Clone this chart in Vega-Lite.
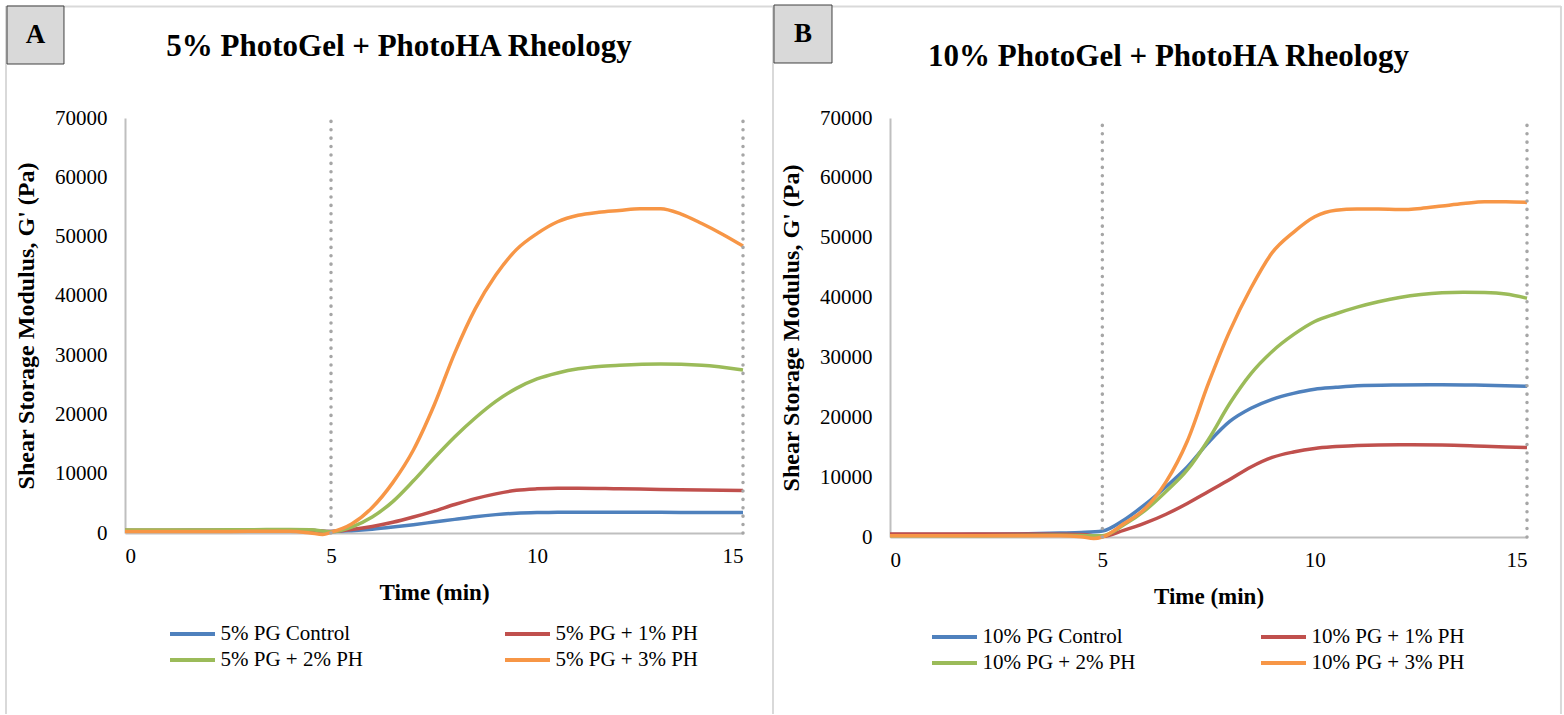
{
  "$schema": "https://vega.github.io/schema/vega-lite/v6.json",
  "background": "white",
  "padding": {"left": 5, "top": 4, "right": 0, "bottom": 0},
  "autosize": {"type": "pad"},
  "bounds": "flush",
  "spacing": 147,
  "config": {
    "font": "Liberation Serif",
    "view": {"stroke": null},
    "axis": {
      "labelFont": "Liberation Serif", "labelFontSize": 21, "labelColor": "#000000",
      "titleFont": "Liberation Serif", "titleFontSize": 23, "titleFontWeight": "bold", "titleColor": "#000000",
      "ticks": false, "grid": false, "domainColor": "#bfbfbf", "domainWidth": 2
    },
    "axisY": {"labelPadding": 18, "titlePadding": 16, "titleFontSize": 24},
    "axisX": {"labelPadding": 12, "titlePadding": 15},
    "legend": {
      "orient": "none", "direction": "horizontal", "columns": 2, "padding": 0,
      "labelFont": "Liberation Serif", "labelFontSize": 21, "labelColor": "#000000", "labelLimit": 400,
      "symbolType": "M-2.5,0H2.5", "symbolSize": 324, "symbolStrokeWidth": 4, "labelOffset": 17,
      "rowPadding": 5, "title": null
    },
    "title": {"font": "Liberation Serif", "fontSize": 31, "fontWeight": "bold", "color": "#000000", "anchor": "middle"}
  },
  "datasets": {
    "a": [
      {"t": 0, "v": 400, "s": "5% PG Control"}, {"t": 1, "v": 400, "s": "5% PG Control"}, {"t": 2, "v": 420, "s": "5% PG Control"}, {"t": 3, "v": 450, "s": "5% PG Control"}, {"t": 4, "v": 480, "s": "5% PG Control"}, {"t": 4.5, "v": 450, "s": "5% PG Control"}, {"t": 5, "v": 250, "s": "5% PG Control"}, {"t": 5.5, "v": 400, "s": "5% PG Control"}, {"t": 6, "v": 650, "s": "5% PG Control"}, {"t": 6.5, "v": 1000, "s": "5% PG Control"}, {"t": 7, "v": 1400, "s": "5% PG Control"}, {"t": 7.5, "v": 1850, "s": "5% PG Control"}, {"t": 8, "v": 2300, "s": "5% PG Control"}, {"t": 8.5, "v": 2750, "s": "5% PG Control"}, {"t": 9, "v": 3100, "s": "5% PG Control"}, {"t": 9.5, "v": 3350, "s": "5% PG Control"}, {"t": 10, "v": 3450, "s": "5% PG Control"}, {"t": 10.5, "v": 3480, "s": "5% PG Control"}, {"t": 11, "v": 3500, "s": "5% PG Control"}, {"t": 12, "v": 3500, "s": "5% PG Control"}, {"t": 13, "v": 3480, "s": "5% PG Control"}, {"t": 14, "v": 3470, "s": "5% PG Control"}, {"t": 15, "v": 3450, "s": "5% PG Control"},
      {"t": 0, "v": 450, "s": "5% PG + 1% PH"}, {"t": 1, "v": 450, "s": "5% PG + 1% PH"}, {"t": 2, "v": 450, "s": "5% PG + 1% PH"}, {"t": 3, "v": 480, "s": "5% PG + 1% PH"}, {"t": 4, "v": 500, "s": "5% PG + 1% PH"}, {"t": 4.5, "v": 450, "s": "5% PG + 1% PH"}, {"t": 5, "v": 250, "s": "5% PG + 1% PH"}, {"t": 5.5, "v": 600, "s": "5% PG + 1% PH"}, {"t": 6, "v": 1100, "s": "5% PG + 1% PH"}, {"t": 6.5, "v": 1800, "s": "5% PG + 1% PH"}, {"t": 7, "v": 2700, "s": "5% PG + 1% PH"}, {"t": 7.5, "v": 3700, "s": "5% PG + 1% PH"}, {"t": 8, "v": 4800, "s": "5% PG + 1% PH"}, {"t": 8.5, "v": 5800, "s": "5% PG + 1% PH"}, {"t": 9, "v": 6600, "s": "5% PG + 1% PH"}, {"t": 9.5, "v": 7200, "s": "5% PG + 1% PH"}, {"t": 10, "v": 7450, "s": "5% PG + 1% PH"}, {"t": 10.5, "v": 7550, "s": "5% PG + 1% PH"}, {"t": 11, "v": 7550, "s": "5% PG + 1% PH"}, {"t": 12, "v": 7450, "s": "5% PG + 1% PH"}, {"t": 13, "v": 7350, "s": "5% PG + 1% PH"}, {"t": 14, "v": 7250, "s": "5% PG + 1% PH"}, {"t": 15, "v": 7150, "s": "5% PG + 1% PH"},
      {"t": 0, "v": 500, "s": "5% PG + 2% PH"}, {"t": 1, "v": 500, "s": "5% PG + 2% PH"}, {"t": 2, "v": 520, "s": "5% PG + 2% PH"}, {"t": 3, "v": 550, "s": "5% PG + 2% PH"}, {"t": 4, "v": 600, "s": "5% PG + 2% PH"}, {"t": 4.5, "v": 550, "s": "5% PG + 2% PH"}, {"t": 5, "v": 200, "s": "5% PG + 2% PH"}, {"t": 5.5, "v": 1000, "s": "5% PG + 2% PH"}, {"t": 6, "v": 2700, "s": "5% PG + 2% PH"}, {"t": 6.5, "v": 5300, "s": "5% PG + 2% PH"}, {"t": 7, "v": 8800, "s": "5% PG + 2% PH"}, {"t": 7.5, "v": 12600, "s": "5% PG + 2% PH"}, {"t": 8, "v": 16200, "s": "5% PG + 2% PH"}, {"t": 8.5, "v": 19400, "s": "5% PG + 2% PH"}, {"t": 9, "v": 22200, "s": "5% PG + 2% PH"}, {"t": 9.5, "v": 24400, "s": "5% PG + 2% PH"}, {"t": 10, "v": 26000, "s": "5% PG + 2% PH"}, {"t": 10.5, "v": 27000, "s": "5% PG + 2% PH"}, {"t": 11, "v": 27700, "s": "5% PG + 2% PH"}, {"t": 11.5, "v": 28100, "s": "5% PG + 2% PH"}, {"t": 12, "v": 28300, "s": "5% PG + 2% PH"}, {"t": 13, "v": 28500, "s": "5% PG + 2% PH"}, {"t": 14, "v": 28300, "s": "5% PG + 2% PH"}, {"t": 15, "v": 27500, "s": "5% PG + 2% PH"},
      {"t": 0, "v": 250, "s": "5% PG + 3% PH"}, {"t": 1, "v": 250, "s": "5% PG + 3% PH"}, {"t": 2, "v": 250, "s": "5% PG + 3% PH"}, {"t": 3, "v": 280, "s": "5% PG + 3% PH"}, {"t": 4, "v": 300, "s": "5% PG + 3% PH"}, {"t": 4.5, "v": 0, "s": "5% PG + 3% PH"}, {"t": 4.8, "v": -250, "s": "5% PG + 3% PH"}, {"t": 5, "v": 100, "s": "5% PG + 3% PH"}, {"t": 5.5, "v": 1500, "s": "5% PG + 3% PH"}, {"t": 6, "v": 4300, "s": "5% PG + 3% PH"}, {"t": 6.5, "v": 8500, "s": "5% PG + 3% PH"}, {"t": 7, "v": 14000, "s": "5% PG + 3% PH"}, {"t": 7.5, "v": 21500, "s": "5% PG + 3% PH"}, {"t": 8, "v": 30300, "s": "5% PG + 3% PH"}, {"t": 8.5, "v": 37800, "s": "5% PG + 3% PH"}, {"t": 9, "v": 43500, "s": "5% PG + 3% PH"}, {"t": 9.5, "v": 47800, "s": "5% PG + 3% PH"}, {"t": 10, "v": 50500, "s": "5% PG + 3% PH"}, {"t": 10.5, "v": 52500, "s": "5% PG + 3% PH"}, {"t": 11, "v": 53600, "s": "5% PG + 3% PH"}, {"t": 11.5, "v": 54100, "s": "5% PG + 3% PH"}, {"t": 12, "v": 54400, "s": "5% PG + 3% PH"}, {"t": 12.5, "v": 54700, "s": "5% PG + 3% PH"}, {"t": 13, "v": 54700, "s": "5% PG + 3% PH"}, {"t": 13.5, "v": 53800, "s": "5% PG + 3% PH"}, {"t": 14, "v": 52200, "s": "5% PG + 3% PH"}, {"t": 14.5, "v": 50400, "s": "5% PG + 3% PH"}, {"t": 15, "v": 48400, "s": "5% PG + 3% PH"}
    ],
    "b": [
      {"t": 0, "v": 400, "s": "10% PG Control"}, {"t": 1, "v": 400, "s": "10% PG Control"}, {"t": 2, "v": 450, "s": "10% PG Control"}, {"t": 3, "v": 500, "s": "10% PG Control"}, {"t": 4, "v": 650, "s": "10% PG Control"}, {"t": 4.5, "v": 750, "s": "10% PG Control"}, {"t": 5, "v": 1000, "s": "10% PG Control"}, {"t": 5.5, "v": 2800, "s": "10% PG Control"}, {"t": 6, "v": 5400, "s": "10% PG Control"}, {"t": 6.5, "v": 8400, "s": "10% PG Control"}, {"t": 7, "v": 11700, "s": "10% PG Control"}, {"t": 7.5, "v": 15800, "s": "10% PG Control"}, {"t": 8, "v": 19300, "s": "10% PG Control"}, {"t": 8.5, "v": 21500, "s": "10% PG Control"}, {"t": 9, "v": 23000, "s": "10% PG Control"}, {"t": 9.5, "v": 24000, "s": "10% PG Control"}, {"t": 10, "v": 24700, "s": "10% PG Control"}, {"t": 10.5, "v": 25000, "s": "10% PG Control"}, {"t": 11, "v": 25250, "s": "10% PG Control"}, {"t": 12, "v": 25400, "s": "10% PG Control"}, {"t": 13, "v": 25450, "s": "10% PG Control"}, {"t": 14, "v": 25350, "s": "10% PG Control"}, {"t": 15, "v": 25200, "s": "10% PG Control"},
      {"t": 0, "v": 500, "s": "10% PG + 1% PH"}, {"t": 1, "v": 500, "s": "10% PG + 1% PH"}, {"t": 2, "v": 500, "s": "10% PG + 1% PH"}, {"t": 3, "v": 500, "s": "10% PG + 1% PH"}, {"t": 4, "v": 450, "s": "10% PG + 1% PH"}, {"t": 4.5, "v": 400, "s": "10% PG + 1% PH"}, {"t": 5, "v": 100, "s": "10% PG + 1% PH"}, {"t": 5.5, "v": 1100, "s": "10% PG + 1% PH"}, {"t": 6, "v": 2300, "s": "10% PG + 1% PH"}, {"t": 6.5, "v": 3800, "s": "10% PG + 1% PH"}, {"t": 7, "v": 5600, "s": "10% PG + 1% PH"}, {"t": 7.5, "v": 7600, "s": "10% PG + 1% PH"}, {"t": 8, "v": 9600, "s": "10% PG + 1% PH"}, {"t": 8.5, "v": 11700, "s": "10% PG + 1% PH"}, {"t": 9, "v": 13300, "s": "10% PG + 1% PH"}, {"t": 9.5, "v": 14200, "s": "10% PG + 1% PH"}, {"t": 10, "v": 14800, "s": "10% PG + 1% PH"}, {"t": 10.5, "v": 15100, "s": "10% PG + 1% PH"}, {"t": 11, "v": 15300, "s": "10% PG + 1% PH"}, {"t": 12, "v": 15400, "s": "10% PG + 1% PH"}, {"t": 13, "v": 15350, "s": "10% PG + 1% PH"}, {"t": 14, "v": 15150, "s": "10% PG + 1% PH"}, {"t": 15, "v": 14950, "s": "10% PG + 1% PH"},
      {"t": 0, "v": 200, "s": "10% PG + 2% PH"}, {"t": 1, "v": 200, "s": "10% PG + 2% PH"}, {"t": 2, "v": 200, "s": "10% PG + 2% PH"}, {"t": 3, "v": 250, "s": "10% PG + 2% PH"}, {"t": 4, "v": 300, "s": "10% PG + 2% PH"}, {"t": 4.5, "v": 250, "s": "10% PG + 2% PH"}, {"t": 5, "v": 200, "s": "10% PG + 2% PH"}, {"t": 5.5, "v": 2000, "s": "10% PG + 2% PH"}, {"t": 6, "v": 4400, "s": "10% PG + 2% PH"}, {"t": 6.5, "v": 7600, "s": "10% PG + 2% PH"}, {"t": 7, "v": 11200, "s": "10% PG + 2% PH"}, {"t": 7.5, "v": 16300, "s": "10% PG + 2% PH"}, {"t": 8, "v": 22300, "s": "10% PG + 2% PH"}, {"t": 8.5, "v": 27300, "s": "10% PG + 2% PH"}, {"t": 9, "v": 31000, "s": "10% PG + 2% PH"}, {"t": 9.5, "v": 33800, "s": "10% PG + 2% PH"}, {"t": 10, "v": 36000, "s": "10% PG + 2% PH"}, {"t": 10.5, "v": 37300, "s": "10% PG + 2% PH"}, {"t": 11, "v": 38400, "s": "10% PG + 2% PH"}, {"t": 11.5, "v": 39300, "s": "10% PG + 2% PH"}, {"t": 12, "v": 40000, "s": "10% PG + 2% PH"}, {"t": 12.5, "v": 40500, "s": "10% PG + 2% PH"}, {"t": 13, "v": 40800, "s": "10% PG + 2% PH"}, {"t": 13.5, "v": 40900, "s": "10% PG + 2% PH"}, {"t": 14, "v": 40850, "s": "10% PG + 2% PH"}, {"t": 14.5, "v": 40600, "s": "10% PG + 2% PH"}, {"t": 15, "v": 39900, "s": "10% PG + 2% PH"},
      {"t": 0, "v": 200, "s": "10% PG + 3% PH"}, {"t": 1, "v": 200, "s": "10% PG + 3% PH"}, {"t": 2, "v": 200, "s": "10% PG + 3% PH"}, {"t": 3, "v": 200, "s": "10% PG + 3% PH"}, {"t": 4, "v": 200, "s": "10% PG + 3% PH"}, {"t": 4.5, "v": 50, "s": "10% PG + 3% PH"}, {"t": 4.8, "v": -250, "s": "10% PG + 3% PH"}, {"t": 5, "v": 0, "s": "10% PG + 3% PH"}, {"t": 5.5, "v": 2200, "s": "10% PG + 3% PH"}, {"t": 6, "v": 4700, "s": "10% PG + 3% PH"}, {"t": 6.5, "v": 9200, "s": "10% PG + 3% PH"}, {"t": 7, "v": 16000, "s": "10% PG + 3% PH"}, {"t": 7.5, "v": 25700, "s": "10% PG + 3% PH"}, {"t": 8, "v": 34400, "s": "10% PG + 3% PH"}, {"t": 8.5, "v": 41600, "s": "10% PG + 3% PH"}, {"t": 9, "v": 47500, "s": "10% PG + 3% PH"}, {"t": 9.5, "v": 50900, "s": "10% PG + 3% PH"}, {"t": 10, "v": 53500, "s": "10% PG + 3% PH"}, {"t": 10.5, "v": 54600, "s": "10% PG + 3% PH"}, {"t": 11, "v": 54800, "s": "10% PG + 3% PH"}, {"t": 11.5, "v": 54800, "s": "10% PG + 3% PH"}, {"t": 12, "v": 54700, "s": "10% PG + 3% PH"}, {"t": 12.5, "v": 54900, "s": "10% PG + 3% PH"}, {"t": 13, "v": 55300, "s": "10% PG + 3% PH"}, {"t": 13.5, "v": 55700, "s": "10% PG + 3% PH"}, {"t": 14, "v": 56000, "s": "10% PG + 3% PH"}, {"t": 14.5, "v": 56000, "s": "10% PG + 3% PH"}, {"t": 15, "v": 55900, "s": "10% PG + 3% PH"}
    ],
    "markers": [{"t": 5}, {"t": 15}],
    "one": [{}]
  },
  "hconcat": [
    {
      "width": 618, "height": 415,
      "title": {"text": "5% PhotoGel + PhotoHA Rheology", "dx": -35, "offset": -58},
      "layer": [
        {
          "data": {"name": "a"},
          "mark": {"type": "line", "strokeWidth": 3.5, "interpolate": "monotone"},
          "encoding": {
            "x": {"field": "t", "type": "quantitative", "scale": {"domain": [0, 15], "nice": false, "zero": false}, "axis": {"values": [0, 5, 10, 15], "title": "Time (min)"}},
            "y": {"field": "v", "type": "quantitative", "scale": {"domain": [0, 70000], "nice": false}, "axis": {"values": [0, 10000, 20000, 30000, 40000, 50000, 60000, 70000], "format": "d", "title": "Shear Storage Modulus, G' (Pa)"}},
            "color": {"field": "s", "type": "nominal", "sort": null,
              "scale": {"domain": ["5% PG Control", "5% PG + 1% PH", "5% PG + 2% PH", "5% PG + 3% PH"], "range": ["#4f81bd", "#c0504d", "#9bbb59", "#f79646"]},
              "legend": {"legendX": 56.5, "legendY": 505, "columnPadding": 133}}
          }
        },
        {
          "data": {"name": "markers"},
          "mark": {"type": "rule", "color": "#a6a6a6", "strokeWidth": 3.5, "strokeDash": [0.1, 8.3], "strokeCap": "round"},
          "encoding": {"x": {"field": "t", "type": "quantitative"}, "y": {"datum": 0}, "y2": {"datum": 70000}}
        },
        {
          "data": {"name": "one"},
          "mark": {"type": "rule", "color": "#d9d9d9", "strokeWidth": 2},
          "encoding": {"x": {"datum": -2.888}, "y": {"datum": 88890}, "y2": {"datum": -30523}}
        },
        {
          "data": {"name": "one"},
          "mark": {"type": "rule", "color": "#d9d9d9", "strokeWidth": 2},
          "encoding": {"x": {"datum": -2.888}, "x2": {"datum": 15.728}, "y": {"datum": 88807}}
        },
        {
          "data": {"name": "one"},
          "mark": {"type": "rect", "fill": "#d9d9d9", "stroke": "#404040", "strokeWidth": 1},
          "encoding": {"x": {"datum": -2.864}, "x2": {"datum": -1.481}, "y": {"datum": 88891}, "y2": {"datum": 79108}}
        },
        {
          "data": {"name": "one"},
          "mark": {"type": "text", "text": "A", "font": "Liberation Serif", "fontSize": 27, "fontWeight": "bold", "color": "#000000", "align": "center", "baseline": "middle"},
          "encoding": {"x": {"datum": -2.172}, "y": {"datum": 84000}}
        }
      ]
    },
    {
      "width": 637, "height": 419,
      "title": {"text": "10% PhotoGel + PhotoHA Rheology", "dx": -40, "offset": -68},
      "layer": [
        {
          "data": {"name": "b"},
          "mark": {"type": "line", "strokeWidth": 3.5, "interpolate": "monotone"},
          "encoding": {
            "x": {"field": "t", "type": "quantitative", "scale": {"domain": [0, 15], "nice": false, "zero": false}, "axis": {"values": [0, 5, 10, 15], "title": "Time (min)"}},
            "y": {"field": "v", "type": "quantitative", "scale": {"domain": [0, 70000], "nice": false}, "axis": {"values": [0, 10000, 20000, 30000, 40000, 50000, 60000, 70000], "format": "d", "title": "Shear Storage Modulus, G' (Pa)"}},
            "color": {"field": "s", "type": "nominal", "sort": null,
              "scale": {"domain": ["10% PG Control", "10% PG + 1% PH", "10% PG + 2% PH", "10% PG + 3% PH"], "range": ["#4f81bd", "#c0504d", "#9bbb59", "#f79646"]},
              "legend": {"legendX": 53.5, "legendY": 508, "columnPadding": 116}}
          }
        },
        {
          "data": {"name": "markers"},
          "mark": {"type": "rule", "color": "#a6a6a6", "strokeWidth": 3.5, "strokeDash": [0.1, 8.3], "strokeCap": "round"},
          "encoding": {"x": {"field": "t", "type": "quantitative"}, "y": {"datum": 0}, "y2": {"datum": 70000}}
        },
        {
          "data": {"name": "one"},
          "mark": {"type": "rule", "color": "#d9d9d9", "strokeWidth": 2},
          "encoding": {"x": {"datum": -2.755}, "y": {"datum": 88711}, "y2": {"datum": -29571}}
        },
        {
          "data": {"name": "one"},
          "mark": {"type": "rule", "color": "#d9d9d9", "strokeWidth": 2},
          "encoding": {"x": {"datum": 15.8}, "y": {"datum": 88711}, "y2": {"datum": -29571}}
        },
        {
          "data": {"name": "one"},
          "mark": {"type": "rule", "color": "#d9d9d9", "strokeWidth": 2},
          "encoding": {"x": {"datum": -2.755}, "x2": {"datum": 15.8}, "y": {"datum": 88628}}
        },
        {
          "data": {"name": "one"},
          "mark": {"type": "rect", "fill": "#d9d9d9", "stroke": "#404040", "strokeWidth": 1},
          "encoding": {"x": {"datum": -2.732}, "x2": {"datum": -1.366}, "y": {"datum": 88878}, "y2": {"datum": 79189}}
        },
        {
          "data": {"name": "one"},
          "mark": {"type": "text", "text": "B", "font": "Liberation Serif", "fontSize": 27, "fontWeight": "bold", "color": "#000000", "align": "center", "baseline": "middle"},
          "encoding": {"x": {"datum": -2.049}, "y": {"datum": 84033}}
        }
      ]
    }
  ],
  "resolve": {"scale": {"color": "independent", "x": "independent", "y": "independent"}, "legend": {"color": "independent"}}
}
